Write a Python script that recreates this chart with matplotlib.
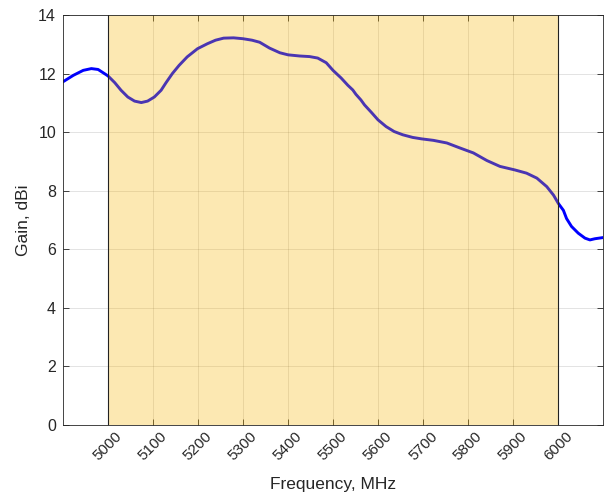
import matplotlib
matplotlib.use("Agg")
import matplotlib.pyplot as plt
from matplotlib.transforms import ScaledTranslation

freq = [4900, 4923, 4945, 4963, 4978, 5000, 5015, 5029, 5044, 5059, 5074, 5088,
        5103, 5118, 5129, 5143, 5158, 5176, 5199, 5221, 5239, 5257, 5279, 5300,
        5320, 5337, 5359, 5382, 5400, 5426, 5448, 5466, 5485, 5500, 5518, 5533,
        5544, 5551, 5562, 5570, 5585, 5600, 5618, 5636, 5655, 5677, 5697, 5723,
        5753, 5782, 5812, 5842, 5871, 5904, 5930, 5953, 5975, 5990, 6001, 6012,
        6019, 6030, 6045, 6060, 6071, 6082, 6100]
gain = [11.72, 11.94, 12.11, 12.17, 12.14, 11.92, 11.69, 11.43, 11.20, 11.06, 11.01, 11.06,
        11.20, 11.43, 11.69, 12.00, 12.28, 12.57, 12.85, 13.02, 13.14, 13.21, 13.22, 13.19,
        13.14, 13.07, 12.87, 12.71, 12.64, 12.60, 12.58, 12.53, 12.37, 12.11, 11.85, 11.60,
        11.44, 11.29, 11.10, 10.93, 10.68, 10.42, 10.19, 10.02, 9.91, 9.82, 9.77, 9.72,
        9.63, 9.46, 9.29, 9.03, 8.83, 8.71, 8.60, 8.43, 8.14, 7.85, 7.56, 7.33,
        7.05, 6.78, 6.55, 6.38, 6.32, 6.36, 6.40]
band = [5000, 6000]
xticks = list(range(5000, 6001, 100))
yticks = list(range(0, 15, 2))

plt.rcParams['font.family'] = ['Liberation Sans', 'DejaVu Sans']
fig = plt.figure(figsize=(6.08, 4.99), dpi=100)
ax = fig.add_axes([63/608, 1-425/499, 540/608, 410/499])

ax.plot(freq, gain, color=(0, 0, 1), lw=2.1, zorder=2, solid_joinstyle='round')
ax.axvspan(band[0], band[1], facecolor=(0.97, 0.7, 0.0), alpha=0.3, edgecolor='none', zorder=3)
ax.axvline(band[0], color='#222222', lw=0.8, zorder=4)
ax.axvline(band[1], color='#222222', lw=0.8, zorder=4)

ax.set_xlim(4900, 6100)
ax.set_ylim(0, 14)
ax.set_xticks(xticks)
ax.set_xticklabels([str(t) for t in xticks], rotation=45, ha='center', va='top')
for lbl in ax.get_xticklabels():
    lbl.set_transform(lbl.get_transform() + ScaledTranslation(-0.05, 0, fig.dpi_scale_trans))
ax.set_yticks(yticks)
ax.grid(True, color='#262626', alpha=0.15, lw=0.6, zorder=5)
ax.set_axisbelow(False)
for s in ax.spines.values():
    s.set_color('#262626')
    s.set_linewidth(0.6)
    s.set_zorder(6)
ax.tick_params(direction='in', top=True, right=True, length=4, width=0.6,
               colors='#262626')
ax.tick_params(axis='x', pad=3, labelsize=11)
ax.tick_params(axis='y', pad=5, labelsize=11.5)
ax.set_xlabel('Frequency, MHz', fontsize=12.5, color='#262626', labelpad=10)
ax.set_ylabel('Gain, dBi', fontsize=12.5, color='#262626', labelpad=5)

fig.savefig('out.png', dpi=100)
